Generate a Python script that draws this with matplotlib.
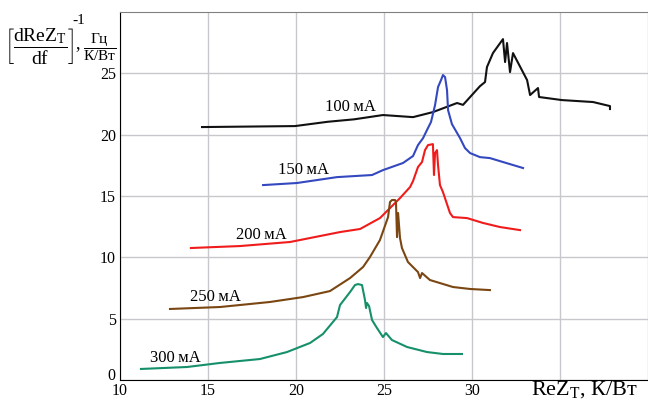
import matplotlib
matplotlib.use("Agg")
import matplotlib.pyplot as plt
import matplotlib.transforms as mtransforms

plt.rcParams['font.family'] = ['Liberation Serif', 'DejaVu Serif']
plt.rcParams['mathtext.fontset'] = 'custom'
plt.rcParams['mathtext.rm'] = 'Liberation Serif'
plt.rcParams['mathtext.it'] = 'Liberation Serif:italic'
plt.rcParams['mathtext.bf'] = 'Liberation Serif:bold'

# 100 mA
x100 = [14.66, 19.94, 21.8, 23.3, 24.94, 26.65, 27.78, 29.15, 29.49, 30.45, 30.74, 30.85,
        31.19, 31.76, 31.88, 31.99, 32.16, 32.33, 33.13, 33.30, 33.75, 33.81, 35.11,
        36.88, 37.84, 37.84]
y100 = [20.62, 20.70, 21.05, 21.25, 21.60, 21.43, 21.84, 22.58, 22.43, 23.95, 24.29, 25.51,
        26.65, 27.79, 25.92, 27.47, 25.10, 26.65, 24.45, 23.23, 23.80, 23.07, 22.82,
        22.66, 22.33, 22.09]

# 150 mA
x150 = [18.13, 20.06, 22.33, 24.32, 24.94, 26.08, 26.65, 26.93, 27.22, 27.44, 27.67, 27.90,
        28.07, 28.24, 28.35, 28.47, 28.58, 28.64, 28.86, 29.32, 29.60, 29.89, 30.45,
        31.02, 31.76, 32.90]
y150 = [15.89, 16.06, 16.54, 16.71, 17.11, 17.69, 18.26, 19.15, 19.72, 20.37, 21.03, 22.41,
        23.88, 24.45, 24.86, 24.69, 23.64, 22.00, 20.86, 19.72, 18.91, 18.50, 18.17,
        18.09, 17.77, 17.28]

# 200 mA
x200 = [14.03, 16.82, 19.66, 22.50, 23.64, 24.77, 25.91, 26.48, 26.65, 26.93, 27.16, 27.33,
        27.50, 27.78, 27.84, 27.90, 28.01, 28.07, 28.18, 28.35, 28.75, 28.92, 29.72,
        30.63, 31.59, 32.73]
y200 = [10.76, 10.92, 11.25, 12.06, 12.31, 13.20, 14.83, 15.73, 16.22, 17.36, 17.77, 18.74,
        19.15, 19.23, 16.71, 18.50, 18.74, 17.52, 15.89, 15.32, 13.61, 13.28, 13.20,
        12.80, 12.47, 12.22]

# 250 mA
x250 = [12.84, 15.68, 18.52, 20.40, 21.93, 23.07, 23.81, 24.20, 24.77, 25.23, 25.34, 25.45,
        25.63, 25.68, 25.74, 25.80, 25.91, 26.02, 26.36, 26.93, 27.05, 27.16, 27.61,
        28.92, 29.89, 31.02]
y250 = [5.79, 5.95, 6.36, 6.76, 7.25, 8.31, 9.21, 10.02, 11.41, 13.28, 14.51, 14.67,
        14.67, 14.51, 11.65, 13.61, 11.57, 10.76, 9.62, 8.80, 8.31, 8.72, 8.15,
        7.58, 7.42, 7.33]

# 300 mA
x300 = [11.19, 13.81, 15.68, 17.95, 19.49, 20.80, 21.53, 22.33, 22.50, 23.07, 23.35, 23.52,
        23.75, 23.92, 23.98, 24.03, 24.15, 24.32, 24.60, 24.94, 25.11, 25.45, 26.31,
        27.44, 28.35, 29.43]
y300 = [0.90, 1.06, 1.39, 1.71, 2.28, 3.02, 3.75, 5.13, 6.11, 7.17, 7.74, 7.82,
        7.74, 6.52, 5.87, 6.28, 6.03, 4.89, 4.24, 3.50, 3.83, 3.26, 2.69,
        2.28, 2.12, 2.12]

labels = ['100\u2009мА', '150\u2009мА', '200\u2009мА', '250\u2009мА', '300\u2009мА']
label_x = [21.65, 18.98, 16.6, 13.98, 11.7]
label_y = [22.25, 17.1, 11.8, 6.8, 1.8]
colors = ['#111111', '#3448c0', '#f01c1c', '#7a4612', '#16906a']

xticks = [10, 15, 20, 25, 30, 35, 40]
xtick_labels = ['10', '15', '20', '25', '30', '', '']
yticks = [0, 5, 10, 15, 20, 25]

W, H = 648, 400
fig = plt.figure(figsize=(W / 100, H / 100), dpi=100)
ax = fig.add_axes([120 / W, 20 / H, 528 / W, 368 / H])

series = [(x100, y100), (x150, y150), (x200, y200), (x250, y250), (x300, y300)]
for (xs, ys), c in zip(series, colors):
    ax.plot(xs, ys, color=c, lw=1.5)

for t, lx, ly in zip(labels, label_x, label_y):
    ax.text(lx, ly, t, fontsize=12, va='center', ha='left')

ax.set_xlim(10, 40)
ax.set_ylim(0, 30)
ax.set_xticks(xticks)
ax.set_xticklabels(xtick_labels)
ax.set_yticks(yticks)
ax.tick_params(length=0, labelsize=11.5)
ax.tick_params(axis='x', pad=2.5)
ax.tick_params(axis='y', pad=3)
ax.grid(True, color='#c8c8cc', lw=1)
ax.spines['right'].set_visible(False)
ax.spines['top'].set_color('#808080')

# the "0" label sits a little above the axis, clear of the "10"
zero_lbl = ax.get_yticklabels()[0]
zero_lbl.set_transform(zero_lbl.get_transform() +
                       mtransforms.ScaledTranslation(0, 4 / 72, fig.dpi_scale_trans))


def ftext(px, py, s, **kw):
    fig.text(px / W, 1 - py / H, s, **kw)


ftext(531, 390, r'$\mathrm{ReZ_T}$, К/Вт', fontsize=16, ha='left', va='center')

# y axis label, built from pieces
ftext(4, 46, r'$\left[\dfrac{\mathrm{dReZ_T}}{\mathrm{df}}\right]$', fontsize=14,
      ha='left', va='center')
ftext(72, 21, '-1', fontsize=11, ha='left', va='center')
ftext(75, 44, ',', fontsize=13, ha='left', va='center')
ftext(100, 47, r'$\dfrac{\mathrm{Гц}}{\mathrm{К/Вт}}$', fontsize=11, ha='center', va='center')

fig.savefig('out.png', dpi=100)
